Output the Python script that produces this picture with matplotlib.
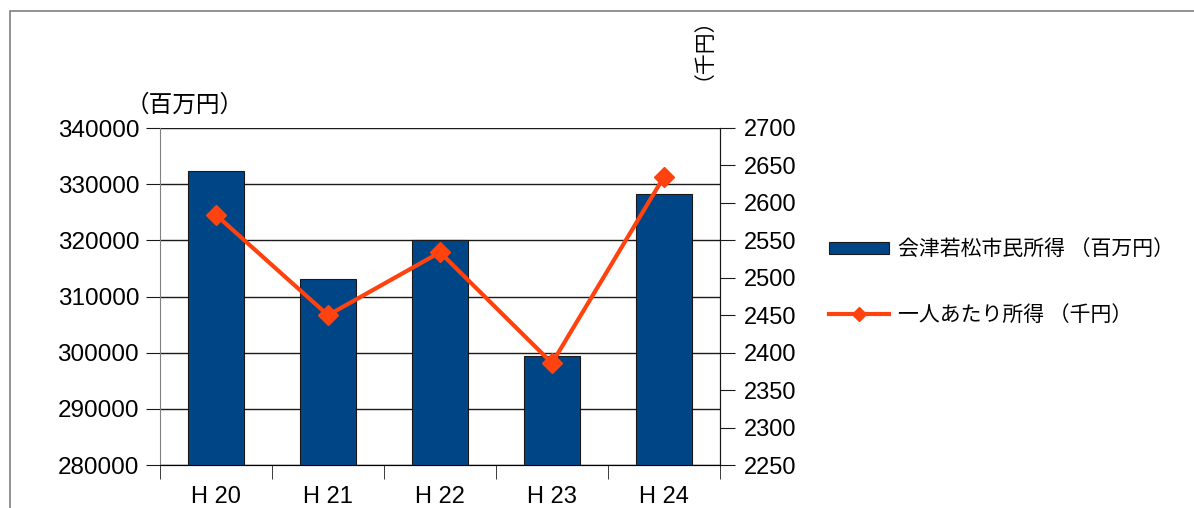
import matplotlib
matplotlib.use("Agg")
import matplotlib.pyplot as plt
import numpy as np
from matplotlib.patches import Rectangle

plt.rcParams['font.family'] = ['Liberation Sans', 'Noto Sans CJK JP', 'DejaVu Sans']

# data
years = ["H 20", "H 21", "H 22", "H 23", "H 24"]
city_income = [332300, 313100, 320000, 299400, 328200]   # 百万円
per_capita = [2584, 2450, 2534, 2386, 2635]               # 千円

bar_color = "#004586"
line_color = "#ff420e"
jp = ['Noto Sans CJK JP', 'DejaVu Sans']

W, H = 1194, 508
fig = plt.figure(figsize=(W / 100, H / 100), dpi=100)

# outer frame (cut off at right and bottom)
fig.patches.append(Rectangle((10 / W, -0.1), 1.2, 1 - 11 / H + 0.1,
                             transform=fig.transFigure, fill=False,
                             edgecolor="#808080", linewidth=1.2))

ax = fig.add_axes([160 / W, 43 / H, 560 / W, 337 / H])
x = np.arange(len(years))
ax.bar(x, city_income, width=0.5, color=bar_color, edgecolor="#1a1a1a",
       linewidth=0.8, zorder=3, label="会津若松市民所得 （百万円）")
ax.set_xlim(-0.5, len(years) - 0.5)
ax.set_ylim(280000, 340000)
ax.set_yticks(np.arange(280000, 340001, 10000))
ax.yaxis.grid(True, color="#1a1a1a", linewidth=1.0, zorder=0)
ax.set_axisbelow(True)
ax.tick_params(axis='y', labelsize=17.5, length=10, pad=5, color="#1a1a1a")
ax.set_xticks(x)
ax.set_xticklabels(years)
ax.set_xticks(np.arange(-0.5, len(years)), minor=True)
ax.tick_params(axis='x', which='major', length=0, labelsize=17, pad=15)
ax.tick_params(axis='x', which='minor', length=10, color="#1a1a1a")
ax.spines['top'].set_visible(False)
ax.spines['left'].set_color("#808080")
ax.spines['bottom'].set_color("#1a1a1a")
ax.spines['right'].set_color("#1a1a1a")

ax2 = ax.twinx()
ax2.plot(x, per_capita, color=line_color, linewidth=3, marker='D',
         markersize=10, zorder=4, label="一人あたり所得 （千円）")
ax2.set_ylim(2250, 2700)
ax2.set_yticks(np.arange(2250, 2701, 50))
ax2.tick_params(axis='y', labelsize=17, length=11, pad=6, color="#1a1a1a")
ax2.spines['top'].set_visible(False)
ax2.spines['right'].set_color("#1a1a1a")
ax2.spines['left'].set_visible(False)

fig.text(126 / W, 1 - 105 / H, "（百万円）", family=jp, fontsize=17,
         ha='left', va='center')
fig.text(693 / W, 1 - 38 / H, "（千円）", family=jp, fontsize=15,
         ha='center', va='center', rotation=90)

h1, l1 = ax.get_legend_handles_labels()
h2, l2 = ax2.get_legend_handles_labels()
leg = fig.legend(h1 + h2, l1 + l2, loc='upper left',
                 bbox_to_anchor=(829 / W, 1 - 238 / H), frameon=False,
                 prop={'family': jp, 'size': 15}, handlelength=2.9,
                 handleheight=0.5, handletextpad=0.4, labelspacing=2.1,
                 borderpad=0, borderaxespad=0)
leg.legend_handles[1].set_markersize(7)

fig.savefig("out.png", dpi=100)
